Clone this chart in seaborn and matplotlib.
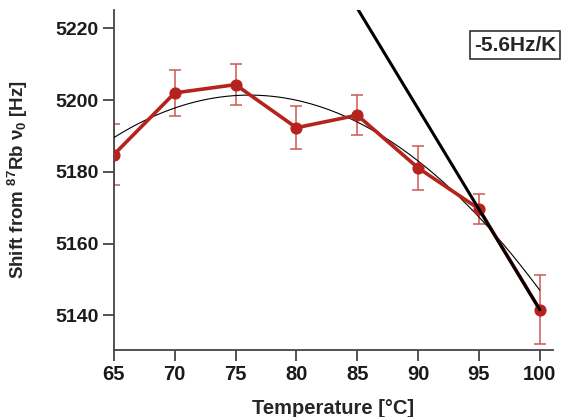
import numpy as np
import pandas as pd
import matplotlib
matplotlib.use("Agg")
import matplotlib.pyplot as plt
import seaborn as sns

# measured shift vs cell temperature
temp = [65, 70, 75, 80, 85, 90, 95, 100]
shift = [5184.8, 5202.0, 5204.3, 5192.3, 5195.8, 5181.1, 5169.7, 5141.6]
err = [8.5, 6.3, 5.7, 6.0, 5.6, 6.1, 4.2, 9.6]

# tangent at the hot end
slope = -5.6
tan_x = [85, 100]
slope_label = "-5.6Hz/K"

yticks = [5140, 5160, 5180, 5200, 5220]
xticks = [65, 70, 75, 80, 85, 90, 95, 100]

sns.set_style("ticks")
plt.rcParams['font.family'] = ['Liberation Sans', 'DejaVu Sans']
plt.rcParams['font.weight'] = 'bold'
plt.rcParams['mathtext.fontset'] = 'custom'
plt.rcParams['mathtext.rm'] = 'Liberation Sans:bold'
plt.rcParams['mathtext.it'] = 'Liberation Sans:bold'
# tick look set up front so every tick object gets it
plt.rcParams.update({
    'xtick.direction': 'out', 'ytick.direction': 'out',
    'xtick.major.size': 8, 'ytick.major.size': 8,
    'xtick.major.width': 1.3, 'ytick.major.width': 1.3,
    'xtick.color': '#444444', 'ytick.color': '#444444',
    'xtick.labelcolor': '#1a1a1a', 'ytick.labelcolor': '#1a1a1a',
    'xtick.labelsize': 14.5, 'ytick.labelsize': 14,
    'xtick.major.pad': 3, 'ytick.major.pad': 3,
    'xtick.bottom': True, 'ytick.left': True,
    'axes.axisbelow': False,
})

df = pd.DataFrame({"T": temp, "shift": shift, "err": err})

# weighted quadratic fit, drawn as thin curve
coef = np.polyfit(df["T"], df["shift"], 2, w=1 / df["err"])
fx = np.linspace(65, 100, 200)
fit = pd.DataFrame({"T": fx, "fit": np.polyval(coef, fx)})

tan = pd.DataFrame({"T": tan_x})
tan["y"] = shift[-1] + slope * (tan["T"] - temp[-1])

fig = plt.figure(figsize=(5.75, 4.17), dpi=100)
ax = fig.add_axes([0.198, 0.161, 0.764, 0.815])

red = "#b5231e"
ax.errorbar(df["T"], df["shift"], yerr=df["err"], fmt="none",
            ecolor="#cc5a52", elinewidth=1.1, capsize=4, capthick=1.1, zorder=2)
sns.lineplot(data=fit, x="T", y="fit", color="black", lw=0.8, ax=ax, zorder=3)
sns.lineplot(data=df, x="T", y="shift", color=red, lw=2.6, marker="o",
             markersize=8, markeredgecolor=red, ax=ax, zorder=4)
sns.lineplot(data=tan, x="T", y="y", color="black", lw=2.2, ax=ax, zorder=5)

ax.set_xlim(65, 101.1)
ax.set_ylim(5130.4, 5225.1)
ax.set_xticks(xticks)
ax.set_yticks(yticks)
sns.despine(ax=ax)
for s in ["left", "bottom"]:
    ax.spines[s].set_color("#444444")
    ax.spines[s].set_linewidth(1.3)

ax.set_xlabel("Temperature [°C]", fontsize=14.5, fontweight="bold", labelpad=11)
ax.set_ylabel(r"Shift from $^{87}$Rb $\nu_0$ [Hz]", fontsize=13.5,
              fontweight="bold", labelpad=18)

fig.text(0.896, 0.892, slope_label, fontsize=15, fontweight="bold",
         ha="center", va="center",
         bbox=dict(boxstyle="square,pad=0.2", fc="white", ec="#333333", lw=1.2))

# tick marks sit outside the axes box, so drop any clipping on them
fig.canvas.draw()
for t in ax.xaxis.get_major_ticks() + ax.yaxis.get_major_ticks():
    t.tick1line.set_clip_path(None)
    t.tick1line.set_clip_on(False)
    t.tick1line.set_zorder(10)
    t.label1.set_fontweight("bold")

fig.savefig("out.png", dpi=100)
